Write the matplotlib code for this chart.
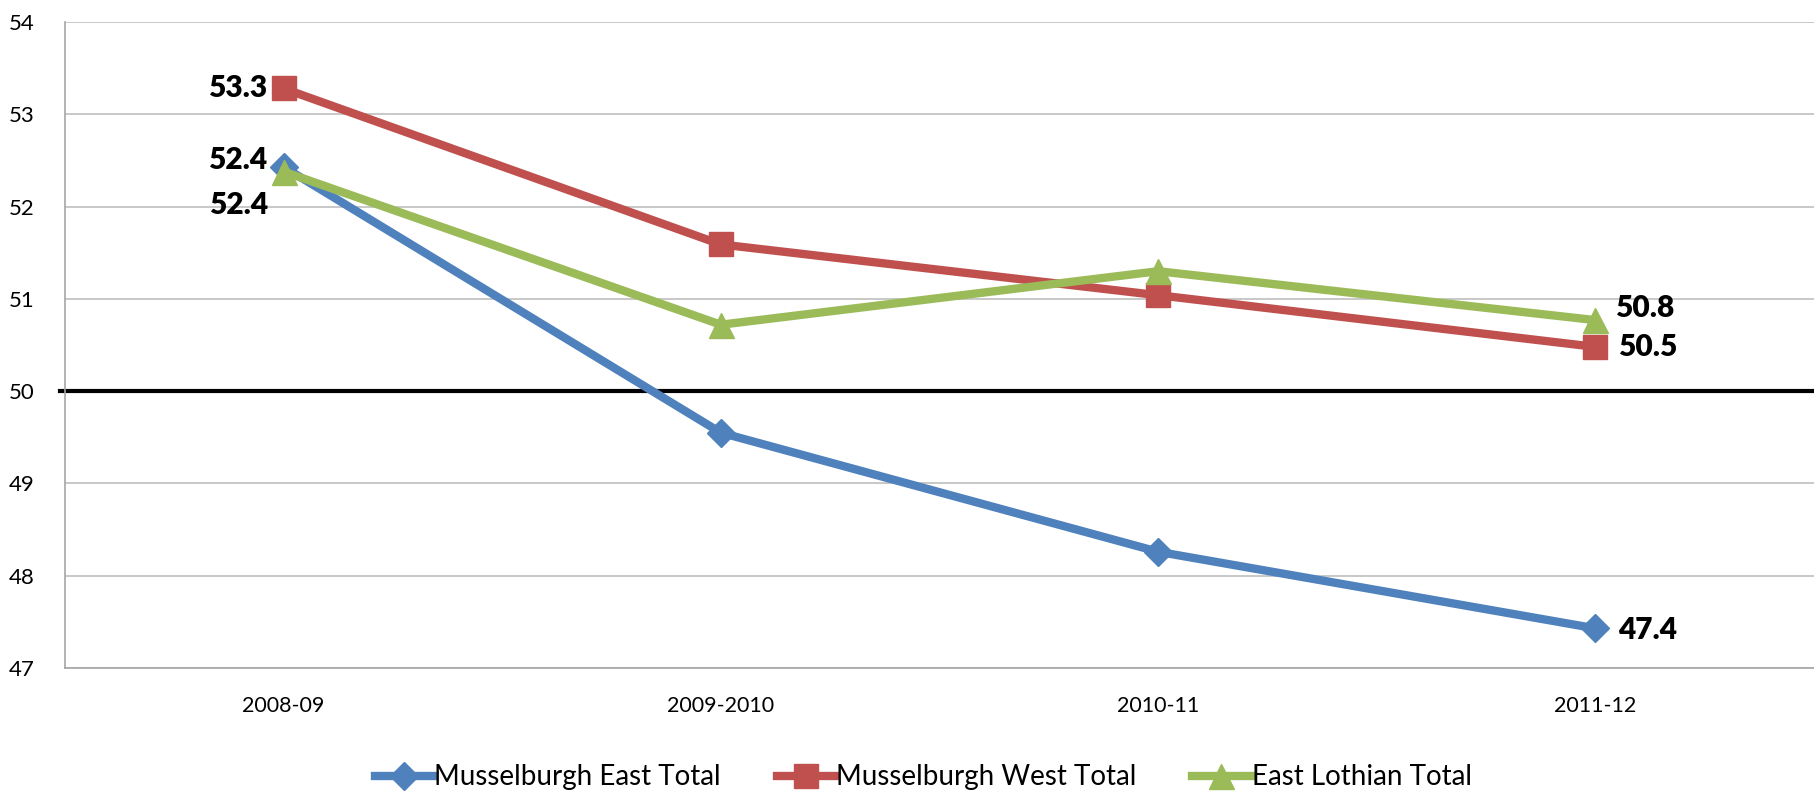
import matplotlib.pyplot as plt

plt.rcParams['font.family'] = ['Lato', 'DejaVu Sans']

years = ['2008-09', '2009-2010', '2010-11', '2011-12']
east = [52.43, 49.55, 48.26, 47.43]      # Musselburgh East Total
west = [53.28, 51.59, 51.04, 50.48]      # Musselburgh West Total
lothian = [52.38, 50.72, 51.3, 50.77]    # East Lothian Total
labels_names = ['Musselburgh East Total', 'Musselburgh West Total', 'East Lothian Total']

blue, red, green = '#4F81BD', '#C0504D', '#9BBB59'

fig = plt.figure(figsize=(18.14, 8.01), dpi=100)
ax = fig.add_axes([0.0358, 0.166, 0.9642, 0.8065])

x = range(len(years))
ax.plot(x, east, color=blue, lw=6, marker='D', ms=14, label=labels_names[0], zorder=3)
ax.plot(x, west, color=red, lw=6, marker='s', ms=17, label=labels_names[1], zorder=3)
ax.plot(x, lothian, color=green, lw=6, marker='^', ms=18, label=labels_names[2], zorder=4)

ax.axhline(50, color='black', lw=3, xmin=-0.003, clip_on=False, zorder=2)

ax.set_xlim(-0.5, 3.5)
ax.set_ylim(47, 54)
ax.set_yticks(range(47, 55))
ax.set_xticks(list(x))
ax.set_xticklabels(years, fontsize=15.5)
ax.tick_params(axis='y', labelsize=16, length=0, pad=22)
ax.tick_params(axis='x', length=0, pad=20)
ax.grid(axis='y', color='#BFBFBF', lw=1.2)
ax.set_axisbelow(True)
for s in ['top', 'right']:
    ax.spines[s].set_visible(False)
for s in ['left', 'bottom']:
    ax.spines[s].set_color('#A6A6A6')
    ax.spines[s].set_linewidth(1.2)

# data labels
lbl = dict(fontsize=21.5, fontweight='heavy', color='black', va='center')
ax.annotate(f'{west[0]:.1f}', (0, west[0]), xytext=(-12, 0), textcoords='offset points', ha='right', **lbl)
ax.annotate(f'{east[0]:.1f}', (0, east[0]), xytext=(-12, 5), textcoords='offset points', ha='right', **lbl)
ax.annotate(f'{lothian[0]:.1f}', (0, lothian[0]), xytext=(-11, -24), textcoords='offset points', ha='right', **lbl)
ax.annotate(f'{lothian[3]:.1f}', (3, lothian[3]), xytext=(14, 9), textcoords='offset points', ha='left', **lbl)
ax.annotate(f'{west[3]:.1f}', (3, west[3]), xytext=(16, 0), textcoords='offset points', ha='left', **lbl)
ax.annotate(f'{east[3]:.1f}', (3, east[3]), xytext=(16, -1), textcoords='offset points', ha='left', **lbl)

fig.legend(loc='lower center', bbox_to_anchor=(0.509, -0.018), ncol=3, frameon=False,
           fontsize=20, handlelength=2.1, columnspacing=2.0, handletextpad=0.05)

fig.savefig('out.png', dpi=100)
